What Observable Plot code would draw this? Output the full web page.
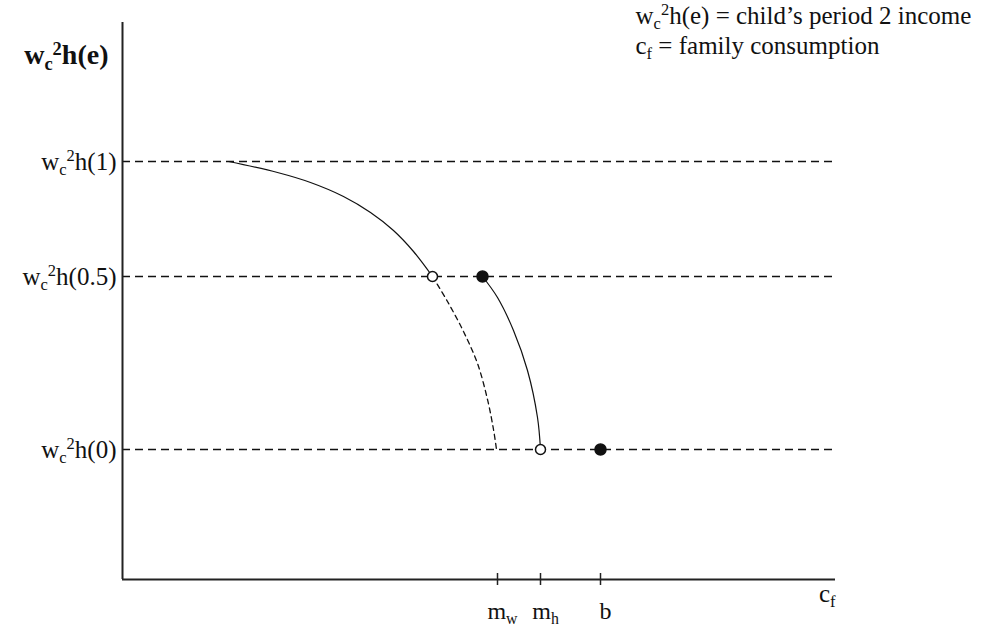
<!DOCTYPE html>
<html>
<head>
<meta charset="utf-8">
<script src="https://cdn.jsdelivr.net/npm/d3@7"></script>
<script src="https://cdn.jsdelivr.net/npm/@observablehq/plot@0.6"></script>
<style>
  body { margin: 0; background: #fff; }
  #chart svg { display: block; }
</style>
</head>
<body>
<div id="chart"></div>
<script>
// ---- data (c_f on x, child's period-2 income on y; arbitrary units) ----
const xMax = 7.13;
const yMax = 5.57;

const levelY = [1.30, 3.03, 4.18];
const levelLabels = ["w_c^2h(0)", "w_c^2h(0.5)", "w_c^2h(1)"];

const xTickValues = [3.75, 4.18, 4.78];
const xTickLabels = ["m_w", "m_h", "b"];

const xAxisLabel = "c_f";
const yAxisLabel = "w_c^2h(e)";
const legendLine1 = "w_c^2h(e) = child’s period 2 income";
const legendLine2 = "c_f = family consumption";

// upper solid curve (from h(1) down to h(0.5))
const upperX = [1.06, 1.55, 1.88, 2.21, 2.48, 2.71, 2.91, 3.10];
const upperY = [4.18, 4.07, 3.97, 3.83, 3.67, 3.49, 3.28, 3.03];

// dashed continuation (down to m_w)
const dashedX = [3.10, 3.25, 3.41, 3.55, 3.65, 3.71, 3.74];
const dashedY = [3.03, 2.78, 2.48, 2.16, 1.80, 1.50, 1.30];

// right solid curve (from h(0.5) down to m_h)
const rightX = [3.60, 3.75, 3.91, 4.05, 4.15, 4.18];
const rightY = [3.03, 2.82, 2.49, 2.09, 1.62, 1.30];

// points
const openX = [3.10, 4.18];
const openY = [3.03, 1.30];
const filledX = [3.60, 4.78];
const filledY = [3.03, 1.30];

// ---- chart ----
const serif = "'Liberation Serif', 'Times New Roman', Times, serif";
const ink = "#111";

const plot = Plot.plot({
  width: 998,
  height: 630,
  marginLeft: 122,
  marginRight: 163,
  marginTop: 22,
  marginBottom: 51,
  x: { domain: [0, xMax], axis: null },
  y: { domain: [0, yMax], axis: null },
  style: { fontFamily: serif, background: "#fff", color: ink, overflow: "visible" },
  marks: [
    // horizontal dashed reference levels
    Plot.ruleY(levelY, { stroke: ink, strokeWidth: 1.3, strokeDasharray: "8,5" }),
    // curves
    Plot.line(upperX, { x: upperX, y: upperY, curve: "catmull-rom", stroke: ink, strokeWidth: 1.2 }),
    Plot.line(dashedX, { x: dashedX, y: dashedY, curve: "catmull-rom", stroke: ink, strokeWidth: 1.3, strokeDasharray: "5,4" }),
    Plot.line(rightX, { x: rightX, y: rightY, curve: "catmull-rom", stroke: ink, strokeWidth: 1.2 }),
    // axes
    Plot.ruleX([0], { stroke: "#222", strokeWidth: 2 }),
    Plot.ruleY([0], { stroke: "#222", strokeWidth: 2 }),
    Plot.ruleX(xTickValues, { x: xTickValues, y1: 0, y2: 0, insetTop: -6, insetBottom: -6, stroke: "#222", strokeWidth: 1.5 }),
    // points
    Plot.dot(openX, { x: openX, y: openY, r: 5, fill: "white", stroke: ink, strokeWidth: 1.5 }),
    Plot.dot(filledX, { x: filledX, y: filledY, r: 5.5, fill: ink, stroke: ink }),
    // y tick labels
    Plot.text(levelLabels, { x: 0, y: levelY, text: levelLabels, textAnchor: "end", dx: -6, fontSize: 25 }),
    // x tick labels
    Plot.text(xTickLabels, { x: xTickValues, y: 0, text: xTickLabels, textAnchor: "middle", dx: 5, dy: 32, fontSize: 24 }),
    // axis labels
    Plot.text([xAxisLabel], { frameAnchor: "bottom-right", text: [xAxisLabel], textAnchor: "end", dx: 0, dy: 22, fontSize: 25 }),
    Plot.text([yAxisLabel], { frameAnchor: "top-left", text: [yAxisLabel], textAnchor: "end", dx: -14, dy: 22, fontSize: 28, fontWeight: "bold" }),
    // legend
    Plot.text([legendLine1], { frameAnchor: "top-right", text: [legendLine1], textAnchor: "start", lineAnchor: "bottom", dx: -200, dy: 1, fontSize: 25 }),
    Plot.text([legendLine2], { frameAnchor: "top-right", text: [legendLine2], textAnchor: "start", lineAnchor: "bottom", dx: -200, dy: 31, fontSize: 25 })
  ]
});

// turn "_x" / "^x" markup into real subscript / superscript tspans
const NS = "http://www.w3.org/2000/svg";
function richText(el) {
  const s = el.textContent;
  if (!/[_^]/.test(s)) return;
  const size = parseFloat(getComputedStyle(el).fontSize) || 20;
  el.textContent = "";
  let i = 0, shift = 0;
  while (i < s.length) {
    let mode = "base", chunk;
    if (s[i] === "_" || s[i] === "^") { mode = s[i] === "_" ? "sub" : "sup"; i++; chunk = s[i]; i++; }
    else { let j = i; while (j < s.length && s[j] !== "_" && s[j] !== "^") j++; chunk = s.slice(i, j); i = j; }
    const target = mode === "sub" ? size * 0.2 : mode === "sup" ? -size * 0.34 : 0;
    const t = document.createElementNS(NS, "tspan");
    if (target - shift !== 0) t.setAttribute("dy", (target - shift).toFixed(2));
    shift = target;
    if (mode !== "base") t.setAttribute("font-size", (size * 0.66).toFixed(2));
    t.textContent = chunk;
    el.appendChild(t);
  }
}

document.getElementById("chart").appendChild(plot);
plot.querySelectorAll("text").forEach(richText);
</script>
</body>
</html>
